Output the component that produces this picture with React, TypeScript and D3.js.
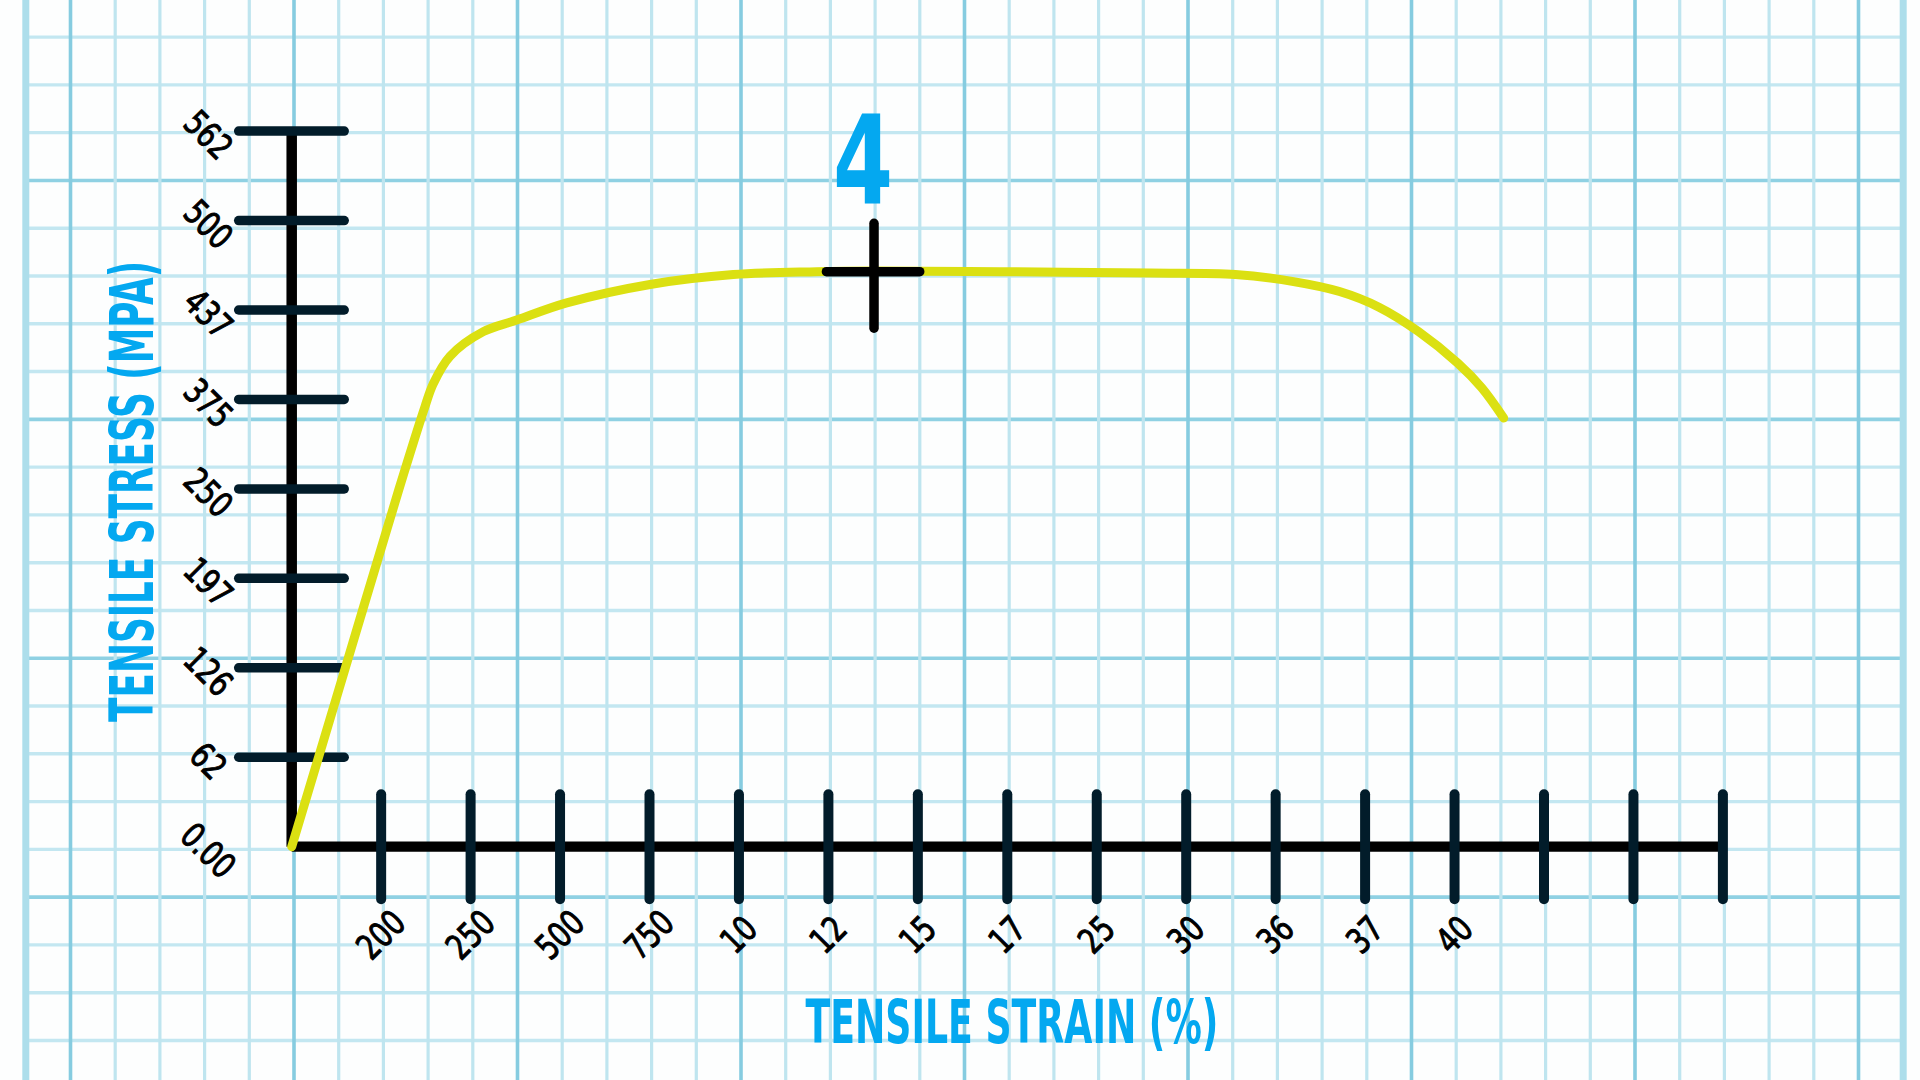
import React from 'react';
import * as d3 from 'd3';

// ---- data ----
const xTickLabels = ['200', '250', '500', '750', '10', '12', '15', '17', '25', '30', '36', '37', '40', '', '', ''];
const yTickLabels = ['0.00', '62', '126', '197', '250', '375', '437', '500', '562'];
const yTickValues = [0, 62, 126, 197, 250, 375, 437, 500, 562];

// strain position (in x-tick steps) and tensile stress (MPa)
const strainStep = [0, 0.6, 1.2, 1.49, 1.583, 1.77, 2.142, 2.515, 3.074, 4.006, 4.937, 5.869, 6.51, 7.918, 9.595, 10.55, 11.2, 11.714, 12.155, 12.598, 13.039, 13.305, 13.549];
const stressMPa = [0, 126, 250, 365, 386, 405, 422, 430, 442, 455, 462, 464, 464.5, 464, 463, 462, 457, 450, 439, 422, 400, 383, 349];

const markerStrain = 6.51;
const markerStress = 464;
const markerLabel = '4';

const xTitle = 'TENSILE STRAIN (%)';
const yTitle = 'TENSILE STRESS (MPA)';

// ---- layout / style ----
const W = 1920;
const H = 1080;
const originX = 291.7;
const originY = 846.7;
const step = 89.45;
const blue = '#04a8f0';
const curveColor = '#dbe012';
const tickColor = '#021c2a';
const tickFont = "'DejaVu Sans Condensed','Liberation Sans Narrow',sans-serif";
const titleFont = "'DejaVu Sans Condensed','Liberation Sans Narrow',sans-serif";

const gridX0 = 25.8;
const gridDX = 44.7;
const gridNX = 43;
const gridY0 = 37.1;
const gridDY = 47.78;
const gridNY = 22;

export default function App() {
  const nX = xTickLabels.length;
  const x = d3.scaleLinear().domain([0, nX]).range([originX, originX + nX * step]);
  const y = d3
    .scaleLinear()
    .domain(yTickValues)
    .range(yTickValues.map((_, i) => originY - i * step));

  const pts: [number, number][] = strainStep.map((s, i) => [s, stressMPa[i]]);
  const line = d3
    .line<[number, number]>()
    .x((d) => x(d[0]))
    .y((d) => y(d[1]))
    .curve(d3.curveCatmullRom.alpha(0.5));

  const gridXs = d3.range(gridNX).map((k) => ({ k, v: gridX0 + k * gridDX }));
  const gridYs = d3.range(gridNY).map((m) => ({ m, v: gridY0 + m * gridDY })).filter((d) => d.v < H);
  const gridLeft = gridX0;
  const gridRight = gridX0 + (gridNX - 1) * gridDX;

  const mx = x(markerStrain);
  const my = y(markerStress);

  return (
    <svg
      width={W}
      height={H}
      viewBox={`0 0 ${W} ${H}`}
      style={{ position: 'absolute', left: 0, top: 0, background: '#ffffff' }}
    >
      <rect x={0} y={0} width={W} height={H} fill="#fdfefe" />
      {/* graph paper */}
      <g>
        {gridYs.map(({ m, v }) => {
          const major = m % 5 === 3;
          return (
            <line
              key={'h' + m}
              x1={gridLeft}
              x2={gridRight}
              y1={v}
              y2={v}
              stroke={major ? '#8fd1e3' : '#c3e7f1'}
              strokeWidth={major ? 3.6 : 3.4}
            />
          );
        })}
        {gridXs.map(({ k, v }) => {
          const major = k % 5 === 1;
          const border = k === 0 || k === gridNX - 1;
          return (
            <line
              key={'v' + k}
              x1={v}
              x2={v}
              y1={0}
              y2={H}
              stroke={border ? '#addeeb' : major ? '#86cce0' : '#bfe5ef'}
              strokeWidth={border ? 7 : major ? 3.6 : 3.2}
            />
          );
        })}
      </g>

      {/* axes */}
      <line x1={x(0)} x2={x(0)} y1={y(562)} y2={y(0)} stroke="#000" strokeWidth={10.5} />
      <line x1={x(0)} x2={x(nX)} y1={y(0)} y2={y(0)} stroke="#000" strokeWidth={10.3} />

      {/* y ticks */}
      {yTickValues.slice(1).map((v) => (
        <line
          key={'yt' + v}
          x1={x(0) - 53}
          x2={x(0) + 52.5}
          y1={y(v)}
          y2={y(v)}
          stroke={tickColor}
          strokeWidth={9.5}
          strokeLinecap="round"
        />
      ))}
      {yTickLabels.map((lab, i) => {
        const ty = y(yTickValues[i]) + 4;
        const tx = 208;
        return (
          <text
            key={'yl' + i}
            x={0}
            y={0}
            transform={`translate(${tx} ${ty}) rotate(45) scale(0.86 1)`}
            textAnchor="middle"
            dominantBaseline="central"
            fontFamily={tickFont}
            fontSize={35}
            fill="#000"
            stroke="#000"
            strokeWidth={1}
          >
            {lab}
          </text>
        );
      })}

      {/* x ticks */}
      {xTickLabels.map((lab, i) => {
        const tx = x(i + 1);
        return (
          <g key={'xt' + i}>
            <line
              x1={tx}
              x2={tx}
              y1={y(0) - 52.5}
              y2={y(0) + 52.5}
              stroke={tickColor}
              strokeWidth={10}
              strokeLinecap="round"
            />
            {lab && (
              <text
                x={0}
                y={0}
                transform={`translate(${tx} 935) rotate(-45) scale(0.86 1)`}
                textAnchor="middle"
                dominantBaseline="central"
                fontFamily={tickFont}
                fontSize={35}
                fill="#000"
                stroke="#000"
                strokeWidth={1}
              >
                {lab}
              </text>
            )}
          </g>
        );
      })}

      {/* curve */}
      <path
        d={line(pts) || ''}
        fill="none"
        stroke={curveColor}
        strokeWidth={9}
        strokeLinecap="round"
        strokeLinejoin="round"
      />

      {/* marker */}
      <line x1={mx - 47.6} x2={mx + 45.7} y1={my} y2={my} stroke="#000" strokeWidth={9.5} strokeLinecap="round" />
      <line x1={mx} x2={mx} y1={my - 48.4} y2={my + 56.6} stroke="#000" strokeWidth={9.5} strokeLinecap="round" />
      <text
        x={0}
        y={0}
        transform={`translate(${mx - 11} 203.3) scale(0.78 1)`}
        textAnchor="middle"
        fontFamily={titleFont}
        fontWeight={700}
        fontSize={123}
        fill={blue}
      >
        {markerLabel}
      </text>

      {/* titles */}
      <text
        x={805.4}
        y={1043.3}
        textLength={413}
        lengthAdjust="spacingAndGlyphs"
        fontFamily={titleFont}
        fontWeight={700}
        fontSize={60}
        fill={blue}
      >
        {xTitle}
      </text>
      <text
        x={0}
        y={0}
        transform="translate(153 491.5) rotate(-90)"
        textAnchor="middle"
        textLength={461}
        lengthAdjust="spacingAndGlyphs"
        fontFamily={titleFont}
        fontWeight={700}
        fontSize={60}
        fill={blue}
      >
        {yTitle}
      </text>
    </svg>
  );
}
